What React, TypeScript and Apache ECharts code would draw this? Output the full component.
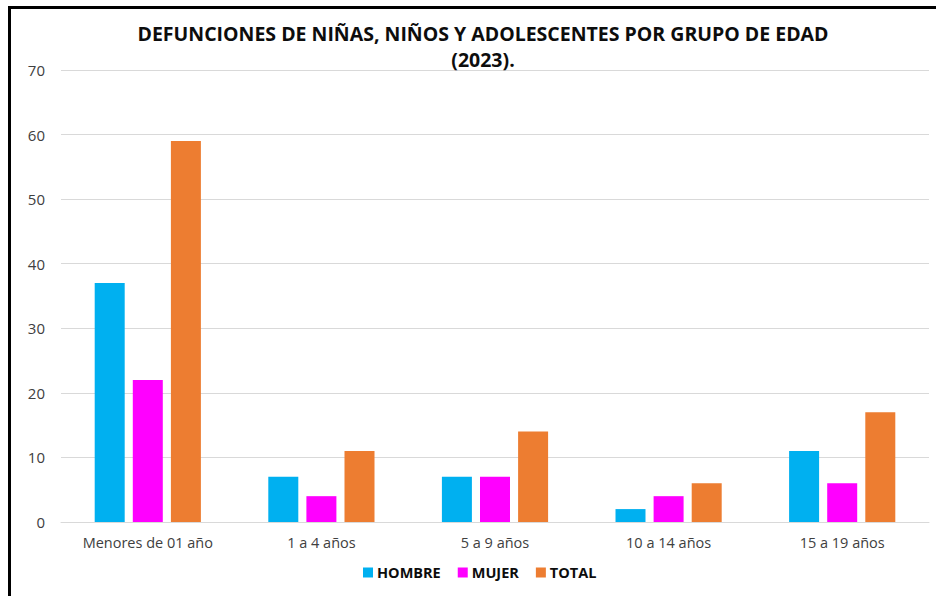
import React, { useEffect, useRef } from "react";
import * as echarts from "echarts";

const categories = ["Menores de 01 año", "1 a 4 años", "5 a 9 años", "10 a 14 años", "15 a 19 años"];
const hombre = [37, 7, 7, 2, 11];
const mujer = [22, 4, 7, 4, 6];
const total = [59, 11, 14, 6, 17];
const seriesNames = ["HOMBRE", "MUJER", "TOTAL"];
const colors = ["#00B0F0", "#FF00FF", "#ED7D31"];
const titleText = "DEFUNCIONES DE NIÑAS, NIÑOS Y ADOLESCENTES POR GRUPO DE EDAD\n(2023).";

const FONT = "'Open Sans', 'Noto Sans', sans-serif";

export default function App() {
  const ref = useRef<HTMLDivElement>(null);
  useEffect(() => {
    if (!ref.current) return;
    const chart = echarts.init(ref.current, null, { renderer: "svg" });
    const data = [hombre, mujer, total];
    chart.setOption({
      animation: false,
      backgroundColor: "#ffffff",
      textStyle: { fontFamily: FONT },
      title: {
        text: titleText,
        left: 478,
        top: 15,
        textAlign: "center",
        textStyle: {
          fontFamily: FONT,
          fontSize: 19.5,
          fontWeight: "bold",
          color: "#0d0d0d",
          lineHeight: 26,
        },
      },
      legend: {
        bottom: 11,
        left: 358,
        itemWidth: 10,
        itemHeight: 10,
        itemGap: 17,
        icon: "rect",
        textStyle: { fontFamily: FONT, fontSize: 14.5, fontWeight: "bold", color: "#0d0d0d", padding: [0, 0, 0, -1] },
        data: seriesNames,
      },
      grid: { left: 61, right: 7, top: 70, bottom: 74, containLabel: false },
      xAxis: {
        type: "category",
        data: categories,
        axisLine: { show: true, lineStyle: { color: "#d9d9d9" } },
        axisTick: { show: false },
        axisLabel: { fontFamily: FONT, fontSize: 14.5, color: "#404040", margin: 13, interval: 0 },
      },
      yAxis: {
        type: "value",
        min: 0,
        max: 70,
        interval: 10,
        axisLine: { show: false },
        axisTick: { show: false },
        splitLine: { lineStyle: { color: "#d9d9d9" } },
        axisLabel: { fontFamily: FONT, fontSize: 15, color: "#404040", margin: 16 },
      },
      graphic: [
        { type: "rect", shape: { x: 8, y: 6, width: 928, height: 3 }, style: { fill: "#000" } },
        { type: "rect", shape: { x: 8, y: 6, width: 3, height: 590 }, style: { fill: "#000" } },
      ],
      series: seriesNames.map((name, i) => ({
        name,
        type: "bar",
        data: data[i],
        barWidth: 30,
        barGap: "27%",
        itemStyle: { color: colors[i] },
      })),
    });
    return () => chart.dispose();
  }, []);
  return (
    <div
      ref={ref}
      style={{ position: "fixed", left: 0, top: 0, width: 936, height: 596 }}
    />
  );
}
